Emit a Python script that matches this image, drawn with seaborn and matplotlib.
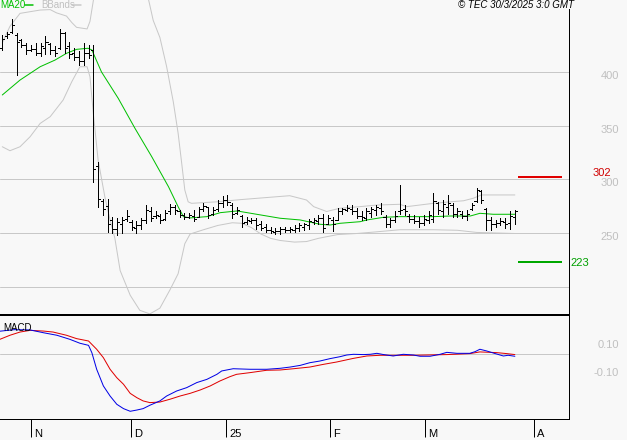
import matplotlib

matplotlib.use("Agg")
import matplotlib.pyplot as plt
from matplotlib.lines import Line2D
import numpy as np
import seaborn as sns

# daily OHLC bars, index 0 = first visible session (late Oct 2024)
opens = [422, 433, 437, 434, 430, 425, 420, 421, 418, 422, 426, 420, 422, 436, 424, 418, 414, 410, 418, 420,
         312, 280, 275, 262, 254, 258, 263, 260, 255, 257, 262, 270, 266, 266, 263, 270, 274, 270, 267, 265,
         266, 265, 272, 274, 268, 272, 278, 281, 276, 269, 266, 260, 261, 262, 258, 256, 253, 251, 252, 254,
         253, 253, 255, 256, 257, 260, 261, 264, 258, 262, 262, 270, 271, 272, 270, 266, 264, 269, 271, 273,
         265, 258, 262, 270, 272, 266, 263, 261, 259, 262, 263, 278, 270, 274, 276, 268, 268, 266, 272, 280,
         289, 272, 262, 258, 259, 260, 259, 265]
highs = [434, 437, 449, 436, 431, 427, 425, 427, 427, 433, 427, 424, 440, 437, 428, 422, 419, 427, 425, 425,
         316, 282, 282, 265, 264, 265, 271, 262, 261, 264, 276, 274, 270, 268, 271, 277, 276, 271, 269, 269,
         271, 274, 278, 274, 274, 281, 284, 285, 278, 274, 267, 265, 264, 264, 261, 258, 256, 255, 256, 256,
         256, 257, 259, 259, 263, 264, 267, 268, 267, 265, 273, 273, 276, 276, 273, 270, 273, 274, 276, 278,
         267, 264, 270, 295, 276, 268, 267, 265, 267, 270, 287, 279, 281, 285, 278, 273, 270, 271, 278, 292,
         290, 273, 265, 262, 264, 264, 270, 271]
lows = [420, 432, 436, 397, 423, 417, 419, 416, 415, 417, 417, 415, 421, 418, 413, 411, 406, 406, 413, 297,
        274, 267, 251, 250, 248, 250, 261, 253, 250, 254, 259, 261, 264, 259, 262, 268, 268, 265, 263, 264,
        261, 265, 270, 264, 267, 270, 274, 276, 264, 268, 256, 258, 259, 254, 253, 251, 250, 249, 249, 251,
        251, 251, 252, 253, 254, 258, 258, 251, 258, 252, 262, 268, 270, 268, 264, 262, 262, 265, 267, 268,
        256, 256, 260, 268, 267, 260, 259, 256, 257, 259, 260, 268, 265, 268, 265, 265, 264, 262, 271, 279,
        278, 253, 253, 256, 257, 255, 254, 258]
closes = [431, 435, 444, 428, 425, 420, 421, 418, 424, 428, 420, 418, 436, 422, 417, 414, 410, 418, 416, 310,
          282, 272, 258, 254, 260, 262, 266, 256, 257, 262, 271, 264, 267, 262, 269, 274, 271, 267, 265, 267,
          263, 272, 275, 267, 271, 278, 281, 279, 268, 271, 259, 262, 262, 257, 255, 253, 252, 252, 254, 253,
          254, 255, 257, 258, 261, 262, 264, 255, 264, 258, 270, 272, 273, 270, 266, 265, 270, 272, 274, 270,
          258, 262, 266, 271, 270, 263, 261, 259, 263, 267, 280, 271, 277, 278, 268, 270, 266, 268, 276, 290,
          281, 262, 258, 259, 261, 258, 266, 270]

# indicator lines at sample bars
ma20_x = [0, 3.7, 7.9, 11, 13.4, 15.5, 17.9, 18.7, 20.7, 24.2, 27.7, 31.2, 34.7, 36.7, 37.8, 39.2, 42.7,
          45.5, 49, 53.1, 58, 62.2, 66.3, 68.4, 70.5, 74.7, 76.1, 79.6, 83, 90, 93.5, 97.7, 99.7, 102.5, 107]
ma20_y = [378.5, 392.4, 404.8, 411, 417.3, 421, 422, 420.4, 400, 375.4, 347.4, 321, 293, 274.5, 265.2, 264,
          265.2, 268.9, 270.5, 267.4, 263.7, 262.1, 258.1, 257.4, 259, 260.5, 262.1, 264.6, 265.2, 265.2,
          265.8, 265.8, 268.3, 267.4, 267.4]

bb_up_x = [0, 1.6, 3.7, 7.9, 10, 11.3, 13.4, 14.5, 15.5, 17.7, 18.3, 18.7, 19.5, 22, 26, 29, 30.8, 31.5,
           32.9, 34.3, 35.7, 36.7, 37.5, 38.1, 38.8, 39.5, 44.8, 49.6, 58, 60, 63.5, 65, 67.7, 70.5, 74.6,
           78.2, 83, 84.4, 90, 93.5, 96.3, 98.3, 100, 107]
bb_up_y = [427, 442.5, 454.5, 457.6, 458, 455, 452, 446, 441.5, 440, 447, 458, 480, 509, 520, 497, 462, 448,
           432, 405, 372, 343, 313, 290, 279, 277.6, 279, 281, 284, 284.7, 280.7, 274.5, 270, 273, 274.5,
           276, 276.7, 274.5, 277.6, 279, 280, 282.3, 285.4, 285.4]

bb_lo_x = [0, 1.6, 3.7, 5.8, 7.9, 10, 12.7, 14.5, 16.2, 17.7, 18.3, 19, 20, 21.4, 22.5, 23.5, 24.6, 26.7,
           28.7, 30.8, 32.9, 35, 36.7, 38.1, 39.2, 42, 45, 48, 50, 52, 54, 56, 58, 61, 63.5, 66, 70, 74, 78,
           83, 90, 95, 99, 103, 107]
bb_lo_y = [330.3, 326.6, 330.3, 339.6, 352, 358.3, 373.8, 390.8, 404.8, 404.8, 395.5, 361.4, 318, 283.8,
           262, 245, 215, 192, 178, 174.6, 180, 197, 212, 240, 249, 253, 257, 259.5, 259, 255, 249, 245, 243,
           241.5, 242, 245, 248.5, 249.5, 251, 253, 253, 252.5, 250.5, 250, 249.5]

macd_x = [-0.5, 2.5, 5.8, 8.6, 11.4, 14.1, 16.2, 18, 18.7, 19.7, 21.1, 22.5, 23.9, 25.3, 26.7, 28.1, 29.4,
          30.8, 32.9, 34.3, 36.4, 38.5, 40.6, 42.7, 44.8, 45.8, 48.2, 51.7, 55.2, 58, 60.1, 62.2, 64.2, 66.3,
          68.4, 70.5, 71.9, 73.3, 75.4, 76.8, 78.2, 79.6, 81.6, 83.7, 85.8, 87.2, 89.3, 91.4, 92.8, 94.9,
          97.6, 98.7, 99.7, 101.1, 102.9, 104.6, 105.6, 107]
macd_y = [0.165, 0.176, 0.174, 0.154, 0.136, 0.107, 0.079, 0.064, 0.011, -0.107, -0.226, -0.298, -0.357,
          -0.388, -0.407, -0.398, -0.388, -0.364, -0.333, -0.298, -0.262, -0.238, -0.202, -0.179, -0.143,
          -0.119, -0.103, -0.107, -0.107, -0.100, -0.091, -0.079, -0.060, -0.048, -0.031, -0.017, -0.005,
          0.000, -0.002, 0.000, 0.007, -0.002, -0.012, 0.000, -0.005, -0.014, -0.014, 0.000, 0.014, 0.007,
          0.007, 0.019, 0.036, 0.024, 0.005, -0.012, -0.007, -0.014]
signal_x = [-0.5, 1.6, 3.7, 5.8, 8.6, 10.6, 13.4, 15.5, 18, 19.7, 21.1, 22.5, 23.9, 25.3, 26.7, 28.1, 29.4,
            30.8, 32.9, 35, 37.1, 39.2, 41.3, 43.4, 45.4, 47.5, 48.9, 51.7, 55.2, 58, 60.8, 64.2, 67, 69.8,
            73.3, 76.1, 78.9, 85.8, 92.8, 97.6, 99.7, 103.2, 105.3, 107]
signal_y = [0.107, 0.136, 0.159, 0.171, 0.166, 0.159, 0.136, 0.112, 0.095, 0.036, -0.024, -0.107, -0.167,
            -0.214, -0.279, -0.310, -0.333, -0.345, -0.341, -0.321, -0.298, -0.279, -0.255, -0.226, -0.191,
            -0.160, -0.143, -0.131, -0.114, -0.112, -0.103, -0.091, -0.072, -0.055, -0.029, -0.012, -0.007,
            -0.007, -0.002, 0.005, 0.017, 0.012, 0.005, -0.002]

month_pos = [6.0, 26.9, 46.7, 68.4, 88.2, 111.0]
month_labels = ["N", "D", "25", "F", "M", "A"]
grid_levels = [200, 250, 300, 350, 400]
price_labels = [250, 300, 350, 400]
resistance = 302
support = 223
macd_ticks = [0.10, -0.10]
macd_tick_labels = ["0.10", "-0.10"]

BG = "#f8f8f8"
GRID = "#c8c8c8"
LABEL = "#c0c0c0"
GREEN = "#00c000"
RED = "#e00000"
BLUE = "#0000e6"
PX = 72 / 100  # points per pixel

sns.set_theme(style="white", rc={"figure.facecolor": BG, "axes.facecolor": BG})
plt.rcParams["font.family"] = ["Liberation Sans", "DejaVu Sans"]

W, H = 627, 440
fig = plt.figure(figsize=(W / 100, H / 100), dpi=100)
ax = fig.add_axes([0, 1 - 315 / H, 569 / W, 315 / H])
mx = fig.add_axes([0, 1 - 419 / H, 569 / W, 104 / H], sharex=ax)

x_lim = (-0.48, 118.3)
ax.set_xlim(*x_lim)
ax.set_ylim(173.6, 466.95)
mx.set_ylim(-0.4621, 0.2807)

# price panel
for lvl in grid_levels:
    ax.axhline(lvl, color=GRID, lw=1 * PX, zorder=0)
sns.lineplot(x=bb_up_x, y=bb_up_y, ax=ax, color=GRID, lw=1 * PX, zorder=1)
sns.lineplot(x=bb_lo_x, y=bb_lo_y, ax=ax, color=GRID, lw=1 * PX, zorder=1)
sns.lineplot(x=ma20_x, y=ma20_y, ax=ax, color=GREEN, lw=1 * PX, zorder=2)

# OHLC bars drawn crisp, like the bitmap original
idx = np.arange(len(closes))
bar_kw = dict(color="black", lw=1 * PX, zorder=3, antialiased=False)
ax.vlines(idx, lows, highs, **bar_kw)
ax.hlines(opens, idx - 0.45, idx, **bar_kw)
ax.hlines(closes, idx, idx + 0.45, **bar_kw)

ax.hlines(resistance, 107.7, 116.8, color=RED, lw=2 * PX, zorder=3)
ax.hlines(support, 107.7, 116.8, color="#00a800", lw=2 * PX, zorder=3)

ytr = ax.get_yaxis_transform()
for p in price_labels:
    ax.annotate(str(p), xy=(1, p), xycoords=ytr, xytext=(50 * PX, -4 * PX), textcoords="offset points",
                ha="right", va="center", fontsize=8, color=LABEL, annotation_clip=False)
# the red level label is lifted a little so it clears the 300 label
ax.annotate(str(resistance), xy=(1, resistance), xycoords=ytr, xytext=(24 * PX, 4.5 * PX),
            textcoords="offset points", ha="left", va="center", fontsize=8, color="#d00000",
            annotation_clip=False)
ax.annotate(str(support), xy=(1, support), xycoords=ytr, xytext=(1 * PX, -1 * PX),
            textcoords="offset points", ha="left", va="center", fontsize=8, color="#00a000",
            annotation_clip=False)

for side in ("left", "top", "bottom"):
    ax.spines[side].set_visible(False)
ax.spines["right"].set_color("black")
ax.spines["right"].set_linewidth(1 * PX)
ax.spines["right"].set_bounds(173.6, 458.6)
ax.set_yticks([])
ax.tick_params(axis="x", bottom=False, labelbottom=False)
ax.set_xlabel("")
ax.set_ylabel("")

# MACD panel
mx.axhline(0, color=GRID, lw=1 * PX, zorder=0)
sns.lineplot(x=signal_x, y=signal_y, ax=mx, color=RED, lw=1 * PX, zorder=2)
sns.lineplot(x=macd_x, y=macd_y, ax=mx, color=BLUE, lw=1 * PX, zorder=3)
mx.spines["left"].set_visible(False)
mx.spines["top"].set_linewidth(2 * PX)
mx.spines["bottom"].set_linewidth(1 * PX)
mx.spines["right"].set_linewidth(1 * PX)
for side in ("top", "bottom", "right"):
    mx.spines[side].set_color("black")
mx.set_yticks([])
mx.set_xticks(month_pos)
mx.set_xticklabels([])
mx.tick_params(axis="x", bottom=True, direction="out", length=18 * PX, width=1 * PX, color="black")
mx.set_xlim(*x_lim)
mx.set_xlabel("")
mx.set_ylabel("")

mytr = mx.get_yaxis_transform()
for v, lab in zip(macd_ticks, macd_tick_labels):
    mx.annotate(lab, xy=(1, v), xycoords=mytr, xytext=(50 * PX, -5 * PX), textcoords="offset points",
                ha="right", va="center", fontsize=8, color=LABEL, annotation_clip=False)

xtr = mx.get_xaxis_transform()
for pos, lab in zip(month_pos, month_labels):
    mx.annotate(lab, xy=(pos, 0), xycoords=xtr, xytext=(3 * PX, -15 * PX), textcoords="offset points",
                ha="left", va="center", fontsize=8, color="black", annotation_clip=False)

# header texts and legend
fig.text(574 / W, 1 - 5 / H, "\u00a9 TEC 30/3/2025 3:0 GMT", ha="right", va="center",
         fontsize=7, style="italic", color="black")
fig.text(0, 1 - 5 / H, "MA20", ha="left", va="center", fontsize=7, color=GREEN)
fig.add_artist(Line2D([25 / W, 33 / W], [1 - 5 / H, 1 - 5 / H], color=GREEN, lw=1.5 * PX))
fig.text(41 / W, 1 - 5 / H, "BBands", ha="left", va="center", fontsize=7, color=LABEL)
fig.add_artist(Line2D([72 / W, 81 / W], [1 - 5 / H, 1 - 5 / H], color=GRID, lw=1.5 * PX))
fig.text(3 / W, 1 - 328 / H, "MACD", ha="left", va="center", fontsize=7, color="black")

fig.savefig("out.png", dpi=100, facecolor=BG)
